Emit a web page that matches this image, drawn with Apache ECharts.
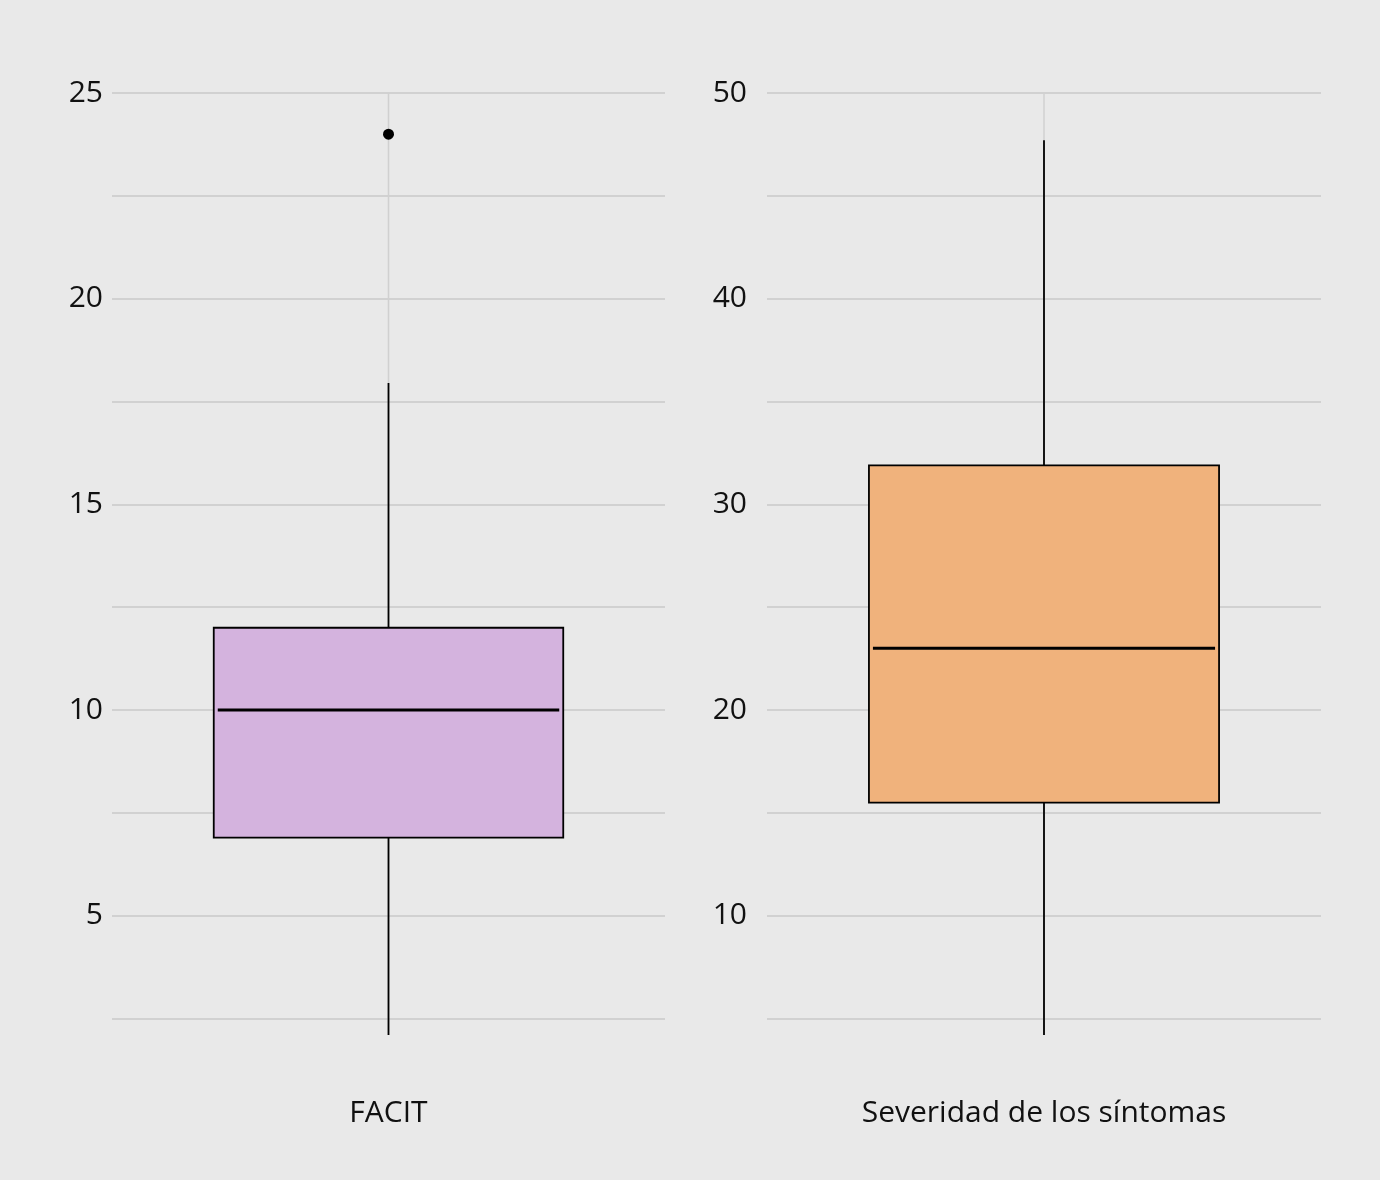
<!DOCTYPE html>
<html>
<head>
<meta charset="utf-8">
<title>FACIT y severidad de los síntomas</title>
<script src="https://cdn.jsdelivr.net/npm/echarts@6/dist/echarts.min.js"></script>
<style>
  html, body { margin: 0; padding: 0; background: #e9e9e9; }
  #container { width: 1380px; height: 1180px; }
</style>
</head>
<body>
<div id="container"></div>
<script>
// box stats: [min, q1, median, q3, max]
const facitCategory = ["FACIT"];
const facitStats = [2.1, 6.9, 10, 12, 17.95];
const facitOutliers = [24];
const facitRange = [2.1, 25];
const facitGridTicks = [2.5, 5, 7.5, 10, 12.5, 15, 17.5, 20, 22.5, 25];
const facitTickLabels = [5, 10, 15, 20, 25];

const sevCategory = ["Severidad de los síntomas"];
const sevStats = [4.2, 15.5, 23, 31.9, 47.7];
const sevOutliers = [];
const sevRange = [4.2, 50];
const sevGridTicks = [5, 10, 15, 20, 25, 30, 35, 40, 45, 50];
const sevTickLabels = [10, 20, 30, 40, 50];

const FONT = "Open Sans";
const GRID_COLOR = "#c9c9c9";

function boxRenderer(fill, range) {
  return function (params, api) {
    const x = api.value(0);
    const pMin = api.coord([x, api.value(1)]);
    const pQ1 = api.coord([x, api.value(2)]);
    const pMed = api.coord([x, api.value(3)]);
    const pQ3 = api.coord([x, api.value(4)]);
    const pMax = api.coord([x, api.value(5)]);
    const top = api.coord([x, range[1]]);
    const bottom = api.coord([x, range[0]]);
    const cx = pMed[0];
    const bw = api.size([1, 0])[0] * 0.632;
    const stroke = { stroke: "#000", lineWidth: 1.8 };
    return {
      type: "group",
      children: [
        {
          type: "line",
          shape: { x1: cx, y1: top[1], x2: cx, y2: bottom[1] },
          style: { stroke: "#d0d0d0", lineWidth: 1.5 },
        },
        {
          type: "line",
          shape: { x1: cx, y1: pQ3[1], x2: cx, y2: pMax[1] },
          style: stroke,
        },
        {
          type: "line",
          shape: { x1: cx, y1: pQ1[1], x2: cx, y2: pMin[1] },
          style: stroke,
        },
        {
          type: "rect",
          shape: { x: cx - bw / 2, y: pQ3[1], width: bw, height: pQ1[1] - pQ3[1] },
          style: { fill: fill, stroke: "#000", lineWidth: 1.8 },
        },
        {
          type: "line",
          shape: { x1: cx - bw / 2 + 4, y1: pMed[1], x2: cx + bw / 2 - 4, y2: pMed[1] },
          style: { stroke: "#000", lineWidth: 3 },
        },
      ],
    };
  };
}

function yAxisFor(gridIndex, range, gridTicks, labels, margin) {
  return {
    type: "value",
    gridIndex: gridIndex,
    min: range[0],
    max: range[1],
    axisLine: { show: false },
    axisTick: { show: false, customValues: gridTicks },
    axisLabel: {
      customValues: labels,
      margin: margin,
      fontFamily: FONT,
      fontSize: 30,
      color: "#111",
    },
    splitLine: { show: true, lineStyle: { color: GRID_COLOR, width: 1.5 } },
  };
}

function xAxisFor(gridIndex, cats) {
  return {
    type: "category",
    gridIndex: gridIndex,
    data: cats,
    axisLine: { show: false },
    axisTick: { show: false },
    splitLine: { show: false },
    axisLabel: {
      margin: 63,
      fontFamily: FONT,
      fontSize: 30,
      color: "#111",
    },
  };
}

const chart = echarts.init(document.getElementById("container"), null, { renderer: "canvas" });

chart.setOption({
  backgroundColor: "#e9e9e9",
  animation: false,
  grid: [
    { left: 112, width: 553, top: 93, bottom: 145 },
    { left: 767, width: 554, top: 93, bottom: 145 },
  ],
  xAxis: [xAxisFor(0, facitCategory), xAxisFor(1, sevCategory)],
  yAxis: [
    yAxisFor(0, facitRange, facitGridTicks, facitTickLabels, 9),
    yAxisFor(1, sevRange, sevGridTicks, sevTickLabels, 20),
  ],
  series: [
    {
      type: "custom",
      xAxisIndex: 0,
      yAxisIndex: 0,
      renderItem: boxRenderer("#d4b3de", facitRange),
      encode: { x: 0, y: [1, 2, 3, 4, 5] },
      data: [[0].concat(facitStats)],
    },
    {
      type: "scatter",
      xAxisIndex: 0,
      yAxisIndex: 0,
      symbolSize: 11,
      itemStyle: { color: "#000", opacity: 1 },
      data: facitOutliers.map((v) => [0, v]),
    },
    {
      type: "custom",
      xAxisIndex: 1,
      yAxisIndex: 1,
      renderItem: boxRenderer("#f0b27c", sevRange),
      encode: { x: 0, y: [1, 2, 3, 4, 5] },
      data: [[0].concat(sevStats)],
    },
    {
      type: "scatter",
      xAxisIndex: 1,
      yAxisIndex: 1,
      symbolSize: 11,
      itemStyle: { color: "#000", opacity: 1 },
      data: sevOutliers.map((v) => [0, v]),
    },
  ],
});

window.addEventListener("resize", chart.resize);
</script>
</body>
</html>
